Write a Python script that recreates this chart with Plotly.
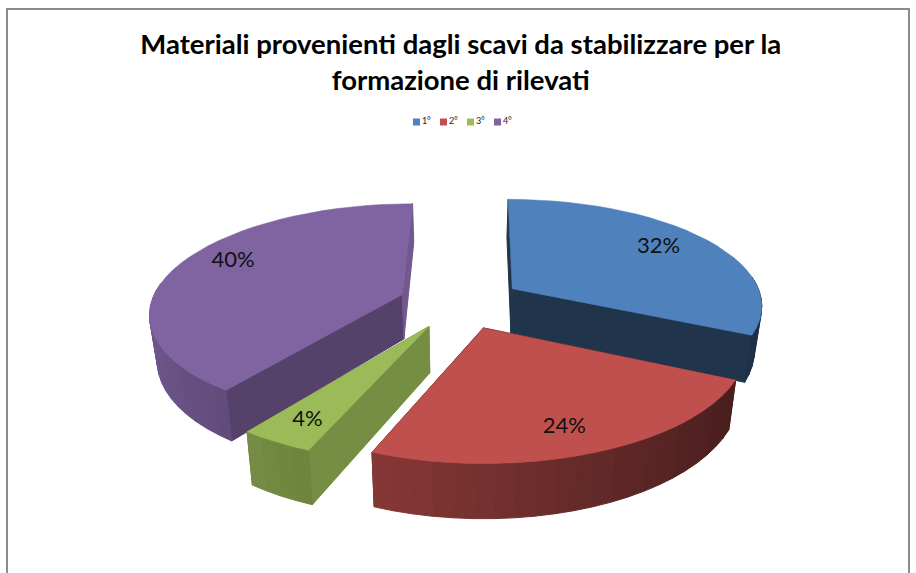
import math
import plotly.graph_objects as go

# Data
labels = ["1°", "2°", "3°", "4°"]
values = [32, 24, 4, 40]
colors = [(79, 129, 189), (192, 80, 77), (155, 187, 89), (128, 100, 162)]
title_lines = ["Materiali provenienti dagli scavi da stabilizzare per la", "formazione di rilevati"]

# Projection of the tilted pie
X0, Y0, TILT, PERSP, R, EXPLODE, DEPTH, SHRINK, SKEW = 460.5, 302.5, 0.425, 0.0006, 251.0, 62.0, 45.0, 0.975, 0.012
draw_order = [0, 3, 2, 1]
start_shade = [0.40, 0.40, 0.76, 0.66]
end_shade = [0.40, 0.40, 0.76, 0.88]
LABEL_R = 0.8
label_nudge = [(-8, 0), (-6, 3), (-3, 4), (10, -8)]
STEP = 4.0


def project(px, py, bottom=False):
    s = 1.0 / (1.0 + PERSP * py)
    sx = X0 + (px + SKEW * py) * s
    sy = Y0 - TILT * py * s
    if bottom:
        sx = X0 + (sx - X0) * SHRINK
        sy = sy + DEPTH * s
    return sx, sy


def polar(theta, r, ox, oy):
    t = math.radians(theta)
    return ox + r * math.sin(t), oy + r * math.cos(t)


def rgb(c, f=1.0):
    return "rgb(%d,%d,%d)" % tuple(round(v * f) for v in c)


def poly(pts, color, lw=1.0):
    xs = [p[0] for p in pts] + [pts[0][0]]
    ys = [p[1] for p in pts] + [pts[0][1]]
    return go.Scatter(x=xs, y=ys, mode="lines", fill="toself", fillcolor=color,
                      line=dict(color=color, width=lw), hoverinfo="skip", showlegend=False)


total = sum(values)
spans = []
acc = 0.0
for v in values:
    a0 = acc / total * 360.0
    acc += v
    spans.append((a0, acc / total * 360.0))

fig = go.Figure()
for i in draw_order:
    a0, a1 = spans[i]
    mid = (a0 + a1) / 2
    ox, oy = polar(mid, EXPLODE, 0, 0)
    n = max(2, int(math.ceil((a1 - a0) / STEP)))
    angles = [a0 + (a1 - a0) * k / n for k in range(n + 1)]
    rim = [polar(t, R, ox, oy) for t in angles]
    # radial walls
    for theta, shade in ((a0, start_shade[i]), (a1, end_shade[i])):
        e = polar(theta, R, ox, oy)
        fig.add_trace(poly([project(ox, oy), project(*e), project(*e, bottom=True), project(ox, oy, bottom=True)],
                           rgb(colors[i], shade)))
    # rim wall, shaded by the direction it faces; the back of the rim stays hidden
    for k in range(n):
        tm = (angles[k] + angles[k + 1]) / 2
        if math.cos(math.radians(tm)) > 0.1:
            continue
        f = 0.607 - 0.252 * math.sin(math.radians(tm))
        fig.add_trace(poly([project(*rim[k]), project(*rim[k + 1]),
                            project(*rim[k + 1], bottom=True), project(*rim[k], bottom=True)],
                           rgb(colors[i], f)))
    # top face
    fig.add_trace(poly([project(ox, oy)] + [project(*p) for p in rim], rgb(colors[i]), 0.5))

# Value labels
lx, ly, lt = [], [], []
for i, (a0, a1) in enumerate(spans):
    mid = (a0 + a1) / 2
    ox, oy = polar(mid, EXPLODE, 0, 0)
    sx, sy = project(*polar(mid, R * LABEL_R, ox, oy))
    lx.append(sx + label_nudge[i][0])
    ly.append(sy + label_nudge[i][1])
    lt.append("%d%%" % round(values[i] / total * 100))
fig.add_trace(go.Scatter(x=lx, y=ly, text=lt, mode="text", textposition="middle center",
                         textfont=dict(family="Lato", size=22, color="#111111"),
                         hoverinfo="skip", showlegend=False))

# Legend row
for i, lab in enumerate(labels):
    fig.add_trace(go.Scatter(x=[416.5 + 27 * i], y=[122], text=[lab], mode="markers+text",
                             textposition="middle right",
                             marker=dict(symbol="square", size=7, color=rgb(colors[i])),
                             textfont=dict(family="Lato", size=9, color="#222222"),
                             hoverinfo="skip", showlegend=False))

fig.update_layout(
    width=916, height=573, autosize=False,
    margin=dict(l=0, r=0, t=0, b=0),
    paper_bgcolor="white", plot_bgcolor="white",
    showlegend=False,
    title=dict(text="<br>".join(title_lines), x=0.503, xanchor="center", y=0.906, yanchor="top",
               font=dict(family="Lato", size=27.5, color="black", weight=700)),
    xaxis=dict(range=[0, 916], visible=False, fixedrange=True),
    yaxis=dict(range=[573, 0], visible=False, fixedrange=True),
    shapes=[dict(type="rect", xref="x", yref="y", x0=7, x1=909, y0=9, y1=600,
                 line=dict(color="#8c8c8c", width=2), layer="below")],
)
fig.write_html("out.html", config={"displayModeBar": False},
               post_script="document.body.style.margin='0';document.body.style.overflow='hidden';")
